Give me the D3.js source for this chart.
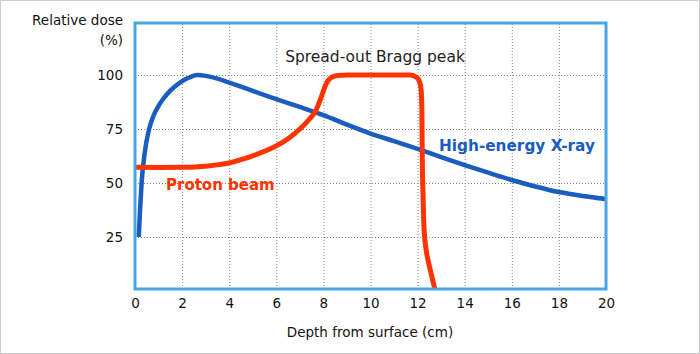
<!DOCTYPE html>
<html>
<head>
<meta charset="utf-8">
<script src="https://cdn.jsdelivr.net/npm/d3@7"></script>
<style>
  html, body { margin: 0; padding: 0; background: #fff; }
  svg { display: block; font-family: "DejaVu Sans", Verdana, sans-serif; }
</style>
</head>
<body>
<div id="chart"></div>
<script>
// Depth (cm) / relative dose (%)
const xrayDepth = [0.16, 0.21, 0.28, 0.4, 0.6, 0.8, 1.0, 1.2, 1.5, 1.8, 2.1, 2.4, 2.65, 3, 3.5, 4, 4.5, 5, 6, 7, 8, 9, 10, 11, 12, 13, 14, 15, 16, 17, 18, 19, 20];
const xrayDose  = [25, 36.6, 50, 63, 75, 81.5, 85.7, 89, 92.8, 95.6, 97.8, 99.3, 100, 99.6, 98.3, 96.5, 94.6, 92.6, 88.8, 85.2, 81.4, 77, 72.9, 69.4, 65.8, 62, 58.3, 54.8, 51.4, 48.4, 45.8, 44, 42.6];

const protonDepth = [0, 1, 2, 3, 4, 4.5, 5, 5.5, 6, 6.5, 7, 7.4, 7.7, 7.9, 8.1, 8.3, 8.6, 9, 11.7, 11.95, 12.08, 12.15, 12.18, 12.2, 12.23, 12.27, 12.35, 12.45, 12.6, 12.75];
const protonDose  = [57.3, 57.2, 57.3, 57.8, 59.3, 60.8, 62.6, 64.7, 67.2, 70.5, 75, 79.5, 84, 89.5, 95.5, 98.6, 99.8, 100, 100, 99, 97, 93, 85, 60, 45, 30, 20, 14, 7, 0];

const xTicks = [0, 2, 4, 6, 8, 10, 12, 14, 16, 18, 20];
const yTicks = [25, 50, 75, 100];

const W = 700, H = 354;
const box = {left: 135, right: 606, top: 23, bottom: 289};

const svg = d3.select("#chart").append("svg")
    .attr("width", W).attr("height", H);

// outer grey frame
svg.append("rect")
    .attr("x", 0.5).attr("y", 0.5)
    .attr("width", W - 1).attr("height", H - 1)
    .attr("fill", "none").attr("stroke", "#cccccc");

const x = d3.scaleLinear().domain([0, 20]).range([box.left, box.right]);
const y = d3.scaleLinear().domain([0, 100]).range([291, 75]);

// dotted grid
svg.append("g")
    .attr("transform", `translate(0,${box.bottom})`)
    .call(d3.axisBottom(x).tickValues(xTicks.slice(1, -1)).tickSize(-(box.bottom - box.top)).tickFormat(""))
    .call(g => g.select(".domain").remove())
    .call(g => g.selectAll("line").attr("stroke", "#888").attr("stroke-dasharray", "1,2"));

svg.append("g")
    .attr("transform", `translate(${box.left},0)`)
    .call(d3.axisLeft(y).tickValues(yTicks).tickSize(-(box.right - box.left)).tickFormat(""))
    .call(g => g.select(".domain").remove())
    .call(g => g.selectAll("line").attr("stroke", "#888").attr("stroke-dasharray", "1,2"));

// tick labels
svg.append("g")
    .attr("transform", `translate(0,${box.bottom})`)
    .call(d3.axisBottom(x).tickValues(xTicks).tickSize(0).tickPadding(9))
    .call(g => g.select(".domain").remove())
    .call(g => g.selectAll("text").attr("font-size", 13.5).attr("fill", "#111")
        .attr("font-family", "DejaVu Sans, Verdana, sans-serif"));

svg.append("g")
    .attr("transform", `translate(${box.left},0)`)
    .call(d3.axisLeft(y).tickValues(yTicks).tickSize(0).tickPadding(12))
    .call(g => g.select(".domain").remove())
    .call(g => g.selectAll("text").attr("font-size", 13.5).attr("fill", "#111")
        .attr("font-family", "DejaVu Sans, Verdana, sans-serif"));

// curves
svg.append("clipPath").attr("id", "plot")
  .append("rect").attr("x", box.left).attr("y", box.top)
    .attr("width", box.right - box.left).attr("height", box.bottom - box.top);

const line = d3.line()
    .x(d => x(d[0]))
    .y(d => y(d[1]))
    .curve(d3.curveMonotoneX);

svg.append("path")
    .datum(xrayDepth.map((d, i) => [d, xrayDose[i]]))
    .attr("clip-path", "url(#plot)")
    .attr("d", line)
    .attr("fill", "none")
    .attr("stroke", "#1a5cbf")
    .attr("stroke-width", 4.5);

svg.append("path")
    .datum(protonDepth.map((d, i) => [d, protonDose[i]]))
    .attr("clip-path", "url(#plot)")
    .attr("d", line)
    .attr("fill", "none")
    .attr("stroke", "#ff3300")
    .attr("stroke-width", 5);

// plot box
svg.append("rect")
    .attr("x", box.left).attr("y", box.top)
    .attr("width", box.right - box.left).attr("height", box.bottom - box.top)
    .attr("fill", "none")
    .attr("stroke", "#45a6e8")
    .attr("stroke-width", 3);

// texts
svg.append("text").attr("x", 123).attr("y", 25)
    .attr("text-anchor", "end").attr("font-size", 13.5).attr("fill", "#111")
    .text("Relative dose");
svg.append("text").attr("x", 123).attr("y", 45)
    .attr("text-anchor", "end").attr("font-size", 13.5).attr("fill", "#111")
    .text("(%)");
svg.append("text").attr("x", 370).attr("y", 337)
    .attr("text-anchor", "middle").attr("font-size", 13.5).attr("fill", "#111")
    .text("Depth from surface (cm)");
svg.append("text").attr("x", 375).attr("y", 62)
    .attr("text-anchor", "middle").attr("font-size", 15.5).attr("fill", "#222")
    .text("Spread-out Bragg peak");
svg.append("text").attr("x", 439).attr("y", 151)
    .attr("font-size", 15.3).attr("font-weight", "bold").attr("fill", "#1a5cbf")
    .text("High-energy X-ray");
svg.append("text").attr("x", 166).attr("y", 190)
    .attr("font-size", 15).attr("font-weight", "bold").attr("fill", "#ff3300")
    .text("Proton beam");
</script>
</body>
</html>
